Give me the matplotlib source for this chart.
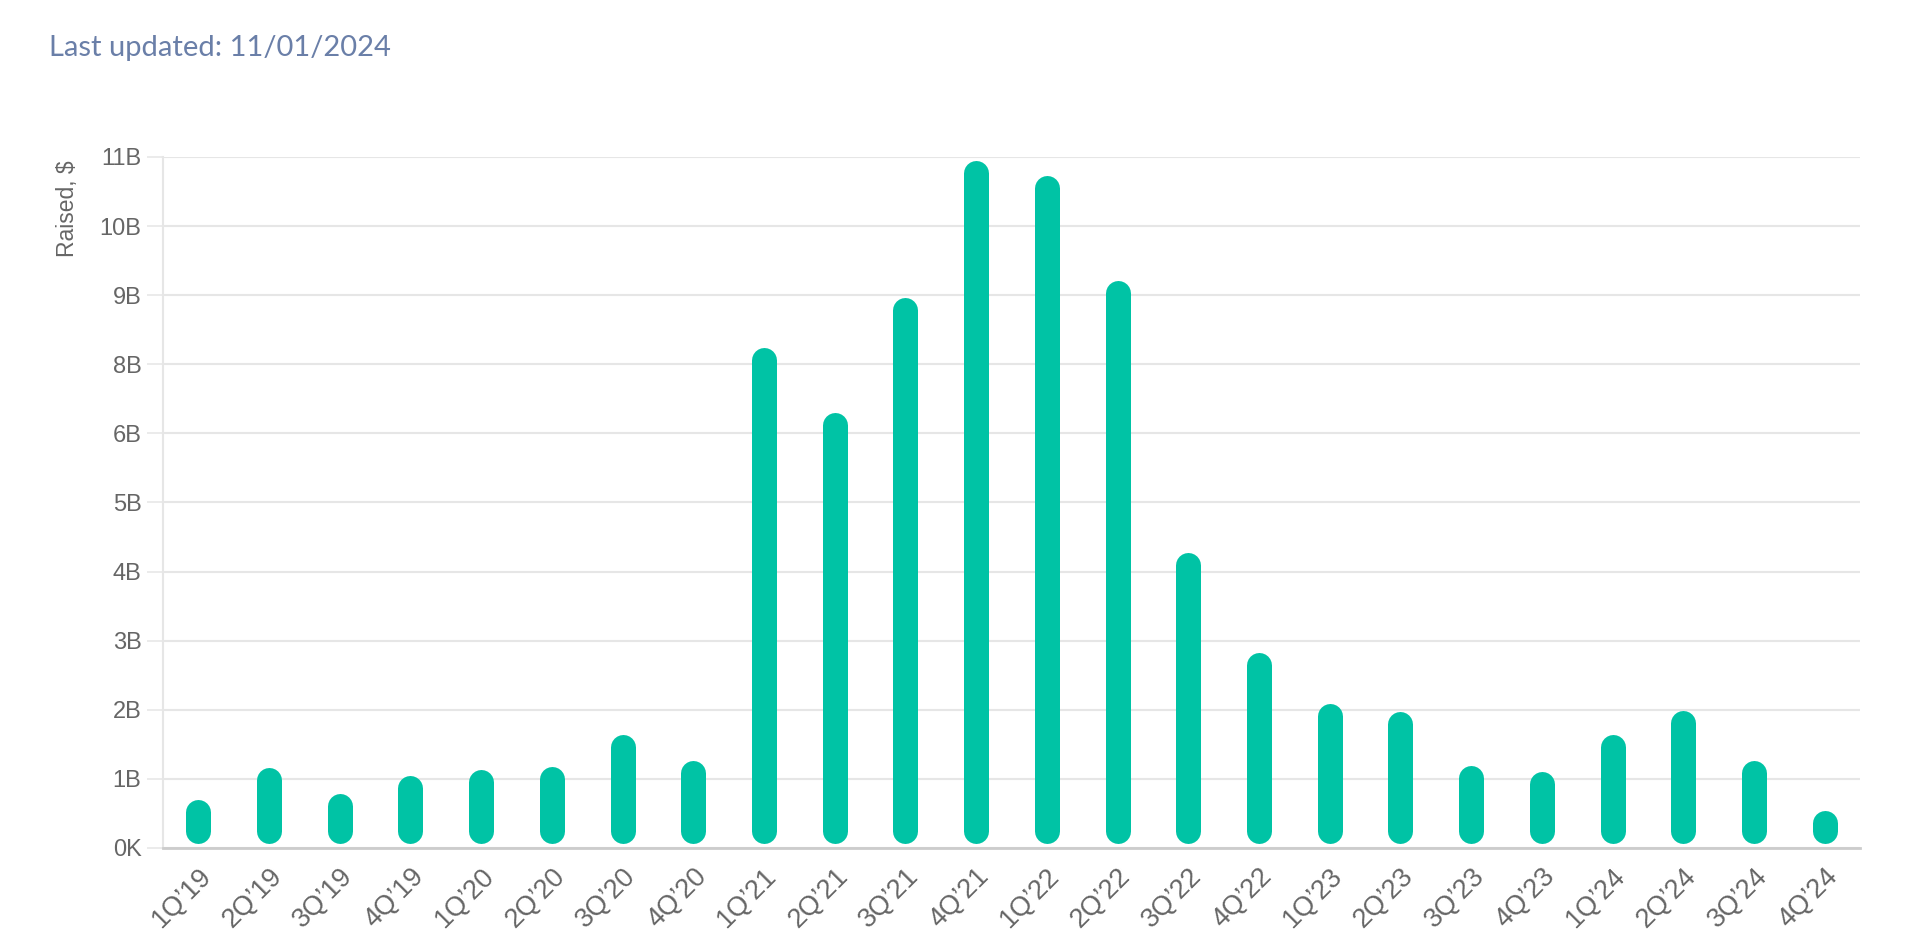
"""Quarterly funding raised, rounded bar chart"""

import numpy as np
import matplotlib.pyplot as plt

quarters = ["1Q\u201919", "2Q\u201919", "3Q\u201919", "4Q\u201919",
            "1Q\u201920", "2Q\u201920", "3Q\u201920", "4Q\u201920",
            "1Q\u201921", "2Q\u201921", "3Q\u201921", "4Q\u201921",
            "1Q\u201922", "2Q\u201922", "3Q\u201922", "4Q\u201922",
            "1Q\u201923", "2Q\u201923", "3Q\u201923", "4Q\u201923",
            "1Q\u201924", "2Q\u201924", "3Q\u201924", "4Q\u201924"]
raised_b = [0.77, 1.28, 0.86, 1.16, 1.25, 1.29, 1.80, 1.39,
            7.96, 6.93, 8.76, 10.94, 10.70, 9.04, 4.71, 3.12,
            2.30, 2.18, 1.31, 1.21, 1.81, 2.19, 1.40, 0.59]
ytick_vals = [0, 1.1, 2.2, 3.3, 4.4, 5.5, 6.6, 7.7, 8.8, 9.9, 11.0]
ytick_labels = ['0K', '1B', '2B', '3B', '4B', '5B', '6B', '8B', '9B', '10B', '11B']

BAR = '#00c3a5'
GRID = '#e6e6e6'
TEXT = '#666666'

W, H, DPI = 1908, 934, 100
fig = plt.figure(figsize=(W / DPI, H / DPI), dpi=DPI)
ax = fig.add_axes([163 / W, 1 - 848 / H, (1860 - 163) / W, (848 - 157) / H])

x = np.arange(len(quarters))
ax.set_xlim(-0.5, len(quarters) - 0.5)
ax.set_ylim(0, 11)

# bars are thick round-capped lines; pull the ends in by the cap radius
bar_px = 25
per_px = 11 / (ax.get_position().height * H)
cap = bar_px / 2 * per_px
vals = np.array(raised_b)
ax.vlines(x, 5 * per_px + cap, vals - cap, colors=BAR,
          linewidth=bar_px * 72 / DPI, capstyle='round', zorder=3)

ax.set_yticks(ytick_vals)
ax.set_yticklabels(ytick_labels)
ax.set_xticks(x)
ax.set_xticklabels(quarters, rotation=45, ha='right', va='top',
                   rotation_mode='anchor')

ax.grid(axis='y', color=GRID, linewidth=1.5)
ax.set_axisbelow(True)
for side in ['top', 'right']:
    ax.spines[side].set_visible(False)
ax.spines['left'].set_color(GRID)
ax.spines['left'].set_linewidth(1.5)
ax.spines['bottom'].set_color('#cccccc')
ax.spines['bottom'].set_linewidth(2)
ax.spines['bottom'].set_zorder(4)

ax.tick_params(axis='y', length=16 * 72 / DPI, width=1.1, color=GRID,
               pad=4, labelsize=17, labelcolor=TEXT)
ax.tick_params(axis='x', length=0, pad=11, labelsize=19.5, labelcolor=TEXT)
for lab in ax.get_xticklabels() + ax.get_yticklabels():
    lab.set_fontfamily('Liberation Sans')

fig.text(68 / W, 1 - 160 / H, 'Raised, $', rotation=90, ha='center', va='top',
         fontsize=16.5, color=TEXT, family='Liberation Sans')
fig.text(49 / W, 1 - 56 / H, 'Last updated: 11/01/2024', ha='left', va='baseline',
         fontsize=21, color='#6a7fa8', family='Lato')

plt.savefig('out.png', dpi=DPI)
